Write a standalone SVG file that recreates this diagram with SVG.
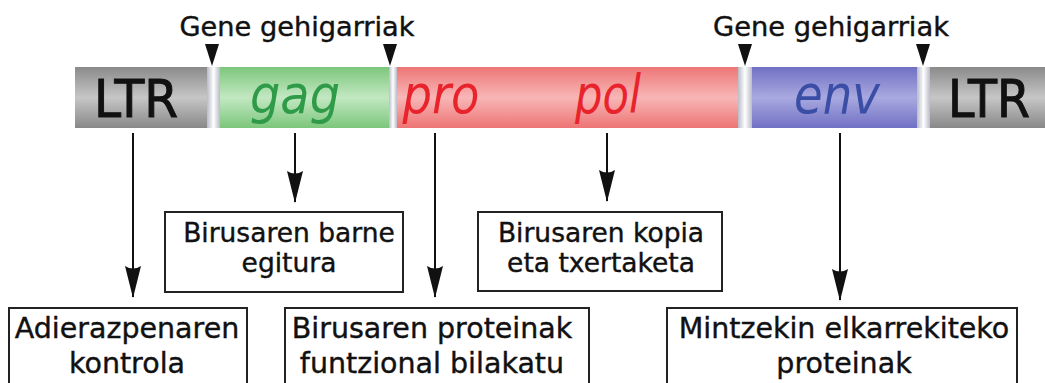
<svg xmlns="http://www.w3.org/2000/svg" width="1045" height="383" viewBox="0 0 1045 383">
<style>
.t{font-family:"DejaVu Sans","Liberation Sans",sans-serif;fill:#111;text-anchor:middle;stroke:#111;stroke-width:0.4}
.box{fill:#fff;stroke:#222;stroke-width:2}
.gene{font-family:"DejaVu Sans","Liberation Sans",sans-serif;font-style:italic;text-anchor:middle;font-size:53px}
.ln{stroke:#111;stroke-width:2;fill:none}
</style>
<defs>
<linearGradient id="gGrey" x1="0" y1="0" x2="0" y2="1">
<stop offset="0" stop-color="#8a8a8a"/><stop offset="0.5" stop-color="#c6c6c6"/><stop offset="1" stop-color="#888"/>
</linearGradient>
<linearGradient id="gGreen" x1="0" y1="0" x2="0" y2="1">
<stop offset="0" stop-color="#7cc67c"/><stop offset="0.5" stop-color="#c2e8c2"/><stop offset="1" stop-color="#7cc67c"/>
</linearGradient>
<linearGradient id="gRed" x1="0" y1="0" x2="0" y2="1">
<stop offset="0" stop-color="#ee7676"/><stop offset="0.5" stop-color="#f8b6b6"/><stop offset="1" stop-color="#ee7474"/>
</linearGradient>
<linearGradient id="gBlue" x1="0" y1="0" x2="0" y2="1">
<stop offset="0" stop-color="#7070c4"/><stop offset="0.5" stop-color="#a9a9e0"/><stop offset="1" stop-color="#7070c4"/>
</linearGradient>
<linearGradient id="gGapH" x1="0" y1="0" x2="1" y2="0">
<stop offset="0" stop-color="#b8bcc8"/><stop offset="0.5" stop-color="#ffffff"/><stop offset="1" stop-color="#b8bcc8"/>
</linearGradient>
<marker id="ah" viewBox="0 0 32 16" refX="31" refY="8" markerWidth="32" markerHeight="16" markerUnits="userSpaceOnUse" orient="auto">
<path d="M0,0 L32,8 L0,16 Q5,8 0,0 Z" fill="#111"/>
</marker>
<path id="tri" d="M-7,0 L7,0 L0,22 Z" fill="#111"/>
</defs>
<rect width="1045" height="383" fill="#fff"/>

<g id="bar">
<rect x="75" y="67" width="132" height="61" fill="url(#gGrey)"/>
<rect x="207" y="67" width="13" height="61" fill="url(#gGapH)"/>
<rect x="220" y="67" width="169" height="61" fill="url(#gGreen)"/>
<rect x="389" y="67" width="8" height="61" fill="url(#gGapH)"/>
<rect x="397" y="67" width="341" height="61" fill="url(#gRed)"/>
<rect x="738" y="67" width="14" height="61" fill="url(#gGapH)"/>
<rect x="752" y="67" width="165" height="61" fill="url(#gBlue)"/>
<rect x="917" y="67" width="13" height="61" fill="url(#gGapH)"/>
<rect x="930" y="67" width="115" height="61" fill="url(#gGrey)"/>
</g>

<g id="ltr-left"><text class="t" x="136" y="117" font-size="51" textLength="84" lengthAdjust="spacingAndGlyphs" style="stroke-width:1">LTR</text></g>
<g id="gag"><text class="gene" x="295" y="113" fill="#2f9a48" textLength="90" lengthAdjust="spacingAndGlyphs">gag</text></g>
<g id="pro"><text class="gene" x="441" y="113" fill="#e8232b" textLength="77" lengthAdjust="spacingAndGlyphs">pro</text></g>
<g id="pol"><text class="gene" x="608" y="113" fill="#e8232b" textLength="66" lengthAdjust="spacingAndGlyphs">pol</text></g>
<g id="env"><text class="gene" x="837" y="113" fill="#3b4ea6" textLength="86" lengthAdjust="spacingAndGlyphs">env</text></g>
<g id="ltr-right"><text class="t" x="989" y="117" font-size="51" textLength="82" lengthAdjust="spacingAndGlyphs" style="stroke-width:1">LTR</text></g>

<g id="gene-label-1">
<text class="t" x="297" y="36" font-size="26" textLength="235" lengthAdjust="spacingAndGlyphs">Gene gehigarriak</text>
<use href="#tri" x="212" y="44"/>
<use href="#tri" x="390" y="44"/>
</g>
<g id="gene-label-2">
<text class="t" x="831" y="36" font-size="26" textLength="236" lengthAdjust="spacingAndGlyphs">Gene gehigarriak</text>
<use href="#tri" x="745" y="44"/>
<use href="#tri" x="923" y="44"/>
</g>

<g id="connectors">
<line class="ln" x1="133" y1="133" x2="133" y2="297" marker-end="url(#ah)"/>
<line class="ln" x1="295" y1="133" x2="295" y2="202" marker-end="url(#ah)"/>
<line class="ln" x1="435" y1="133" x2="435" y2="297" marker-end="url(#ah)"/>
<line class="ln" x1="607" y1="133" x2="607" y2="201" marker-end="url(#ah)"/>
<line class="ln" x1="840" y1="133" x2="840" y2="300" marker-end="url(#ah)"/>
</g>

<g id="box-barne">
<rect class="box" x="165" y="212" width="238" height="80"/>
<text class="t" x="289" y="242" font-size="26.5">Birusaren barne</text>
<text class="t" x="289" y="272" font-size="26.5">egitura</text>
</g>
<g id="box-kopia">
<rect class="box" x="478" y="212" width="244" height="79"/>
<text class="t" x="601" y="242" font-size="26.5">Birusaren kopia</text>
<text class="t" x="601" y="272" font-size="26.5">eta txertaketa</text>
</g>
<g id="box-adierazpen">
<rect class="box" x="9" y="308" width="238" height="90"/>
<text class="t" x="127" y="338" font-size="28.5">Adierazpenaren</text>
<text class="t" x="127" y="373" font-size="28.5">kontrola</text>
</g>
<g id="box-proteinak">
<rect class="box" x="285" y="308" width="304" height="90"/>
<text class="t" x="432" y="338" font-size="28.5">Birusaren proteinak</text>
<text class="t" x="432" y="373" font-size="28.5">funtzional bilakatu</text>
</g>
<g id="box-mintz">
<rect class="box" x="667" y="308" width="350" height="90"/>
<text class="t" x="844" y="338" font-size="28.5">Mintzekin elkarrekiteko</text>
<text class="t" x="844" y="373" font-size="28.5">proteinak</text>
</g>
</svg>
